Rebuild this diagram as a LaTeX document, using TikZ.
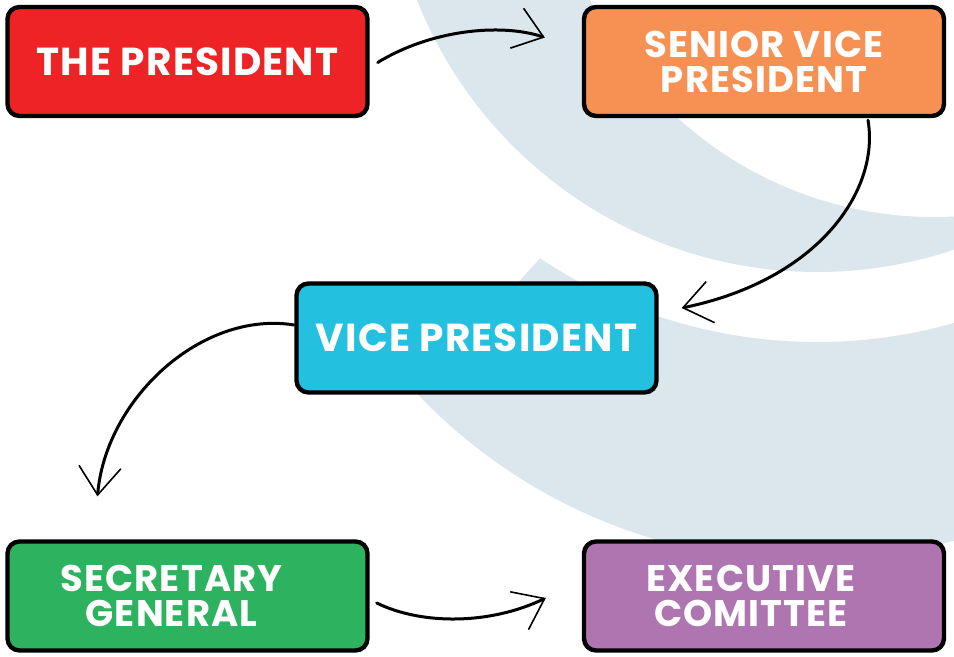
\documentclass[tikz,border=0pt]{standalone}
\usepackage{fontspec}
\newfontfamily\rolefont{Poppins}[LetterSpace=3]
\usetikzlibrary{arrows.meta}
\usetikzlibrary{positioning}

\definecolor{presred}{RGB}{238,35,38}
\definecolor{seniororange}{RGB}{246,145,83}
\definecolor{vicecyan}{RGB}{35,192,224}
\definecolor{secgreen}{RGB}{45,179,95}
\definecolor{execpurple}{RGB}{175,117,177}
\definecolor{swooshblue}{RGB}{220,230,237}

\tikzset{
  rolebox/.style={draw=black, line width=2.2pt, rounded corners=6pt,
    minimum width=180pt, minimum height=54.5pt, inner sep=0pt,
    text=white, align=center,
    font=\rolefont\bfseries\fontsize{19.5}{17}\selectfont},
  twoline/.style={font=\rolefont\bfseries\fontsize{18.5}{17.5}\selectfont},
  flow/.style={draw=black, line width=1.5pt, line cap=round,
    -{Straight Barb[length=14pt,width=21pt,line width=0.8pt]}}
}

\begin{document}
\begin{tikzpicture}[x=0.5pt,y=0.5pt]
  \useasboundingbox (0,0) rectangle (954,-657);
  % background swooshes
  \begin{scope}
    \clip (0,0) rectangle (954,-657);
    \fill[swooshblue, even odd rule] (817,158) circle (430) (934,164) circle (381);
    \begin{scope}
      \clip (921,162) -- (165,-672) -- (1200,-800) -- (1200,300) -- cycle;
      \fill[swooshblue, even odd rule] (807,-23) circle (538) (817,158) circle (500);
    \end{scope}
  \end{scope}

  % the boxes
  \node[rolebox, fill=presred] (pres) at (187.5,-61.5) {THE PRESIDENT};
  \node[rolebox, twoline, fill=seniororange] (svp) at (764,-61.5) {SENIOR VICE\\PRESIDENT};
  \node[rolebox, fill=vicecyan] (vp) at (476.5,-338) {VICE PRESIDENT};
  \node[rolebox, twoline, fill=secgreen] (sg) at (187.5,-596) {SECRETARY\hspace*{16pt}\\GENERAL\hspace*{16pt}};
  \node[rolebox, twoline, fill=execpurple] (ec) at (764,-596) {EXECUTIVE\hspace*{13pt}\\COMITTEE\hspace*{13pt}};

  % connectors
  \draw[flow] ([shift={(8,-1)}]pres.east) .. controls +(52,32) and +(-45,15) .. ([shift={(-37,24)}]svp.west);
  \draw[flow] ([shift={(104,-2)}]svp.south) .. controls +(12,-70) and +(137,28) .. ([shift={(23,30)}]vp.east);
  \draw[flow] ([shift={(0,13)}]vp.west) .. controls +(-93,15) and +(8,97) .. ([shift={(-90,43)}]sg.north);
  \draw[flow] ([shift={(7,-7)}]sg.east) .. controls +(45,-22) and +(-56,-27) .. ([shift={(-36,-2)}]ec.west);
\end{tikzpicture}
\end{document}
